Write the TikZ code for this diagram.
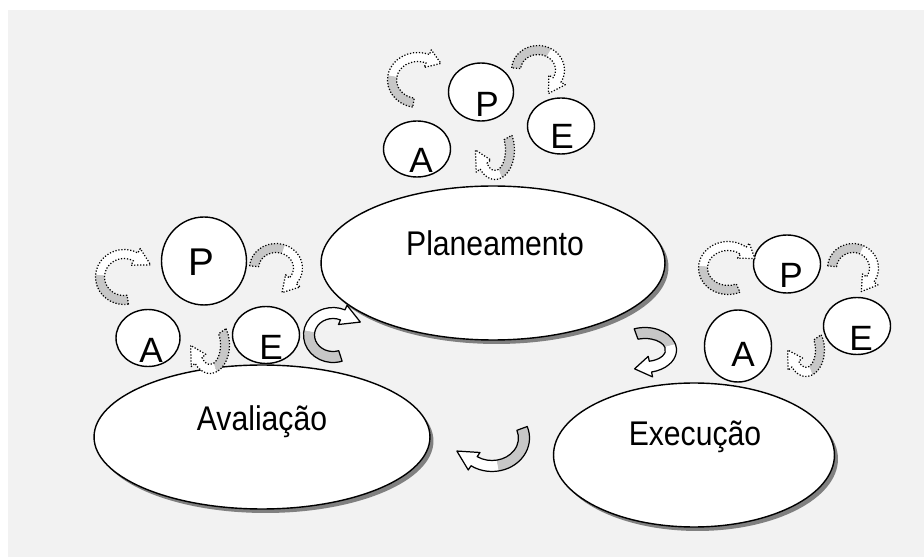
\documentclass[tikz,border=0pt]{standalone}
\usepackage{fontspec}
\setmainfont{Liberation Sans}
\newfontfamily\estreita[FakeStretch=0.88]{Liberation Sans}
\usepackage{tikz}
\usetikzlibrary{shapes.geometric}
\usetikzlibrary{shadows}
\usetikzlibrary{calc}

% ribbon half width and head flare (px)
\def\ribw{4.5}
\def\ribh{5}
% #1 centre, #2 rx, #3 ry, #4 tail angle, #5 turn angle, #6 head angle, #7 head length, #8 outline
\newcommand{\seta}[8]{%
  \begin{scope}[shift={#1}]
    \pgfmathsetmacro\rxo{#2+\ribw}\pgfmathsetmacro\ryo{#3+\ribw}
    \pgfmathsetmacro\rxi{#2-\ribw}\pgfmathsetmacro\ryi{#3-\ribw}
    \pgfmathsetmacro\rxa{#2+\ribw+\ribh}\pgfmathsetmacro\rya{#3+\ribw+\ribh}
    \pgfmathsetmacro\rxb{#2-\ribw-\ribh}\pgfmathsetmacro\ryb{#3-\ribw-\ribh}
    \pgfmathsetmacro\tgx{-#2*sin(#6)}\pgfmathsetmacro\tgy{#3*cos(#6)}
    \pgfmathsetmacro\tgn{veclen(\tgx,\tgy)}
    \pgfmathsetmacro\tipx{#2*cos(#6)+#7*\tgx/\tgn}
    \pgfmathsetmacro\tipy{#3*sin(#6)+#7*\tgy/\tgn}
    \fill[ribback] (#4:{\rxo} and {\ryo})
        arc[start angle=#4,end angle=#5,x radius=\rxo,y radius=\ryo]
        -- (#5:{\rxi} and {\ryi})
        arc[start angle=#5,end angle=#4,x radius=\rxi,y radius=\ryi] -- cycle;
    \fill[white] (#5:{\rxo} and {\ryo})
        arc[start angle=#5,end angle=#6,x radius=\rxo,y radius=\ryo]
        -- (#6:{\rxa} and {\rya}) -- (\tipx,\tipy) -- (#6:{\rxb} and {\ryb})
        -- (#6:{\rxi} and {\ryi})
        arc[start angle=#6,end angle=#5,x radius=\rxi,y radius=\ryi] -- cycle;
    \draw[#8] (#4:{\rxo} and {\ryo})
        arc[start angle=#4,end angle=#6,x radius=\rxo,y radius=\ryo]
        -- (#6:{\rxa} and {\rya}) -- (\tipx,\tipy) -- (#6:{\rxb} and {\ryb})
        -- (#6:{\rxi} and {\ryi})
        arc[start angle=#6,end angle=#4,x radius=\rxi,y radius=\ryi] -- cycle;
  \end{scope}}

\begin{document}
\begin{tikzpicture}[
  x=0.02cm, y=-0.02cm,
  fase/.style 2 args={
    ellipse,
    draw,
    line width=0.8pt,
    fill=white,
    inner sep=0pt,
    minimum width=#1,
    minimum height=#2,
    drop shadow={shadow xshift=0.07cm,shadow yshift=-0.08cm,
                 fill=black!50,opacity=1}},
  ciclo/.style 2 args={
    ellipse,
    draw,
    line width=0.8pt,
    fill=white,
    inner sep=0pt,
    minimum width=#1,
    minimum height=#2},
  nome/.style={font=\estreita\fontsize{19.5}{19.5}\selectfont, inner sep=0pt},
  letra/.style={font=\fontsize{20}{20}\selectfont, inner sep=0pt},
  ribback/.style={fill=black!22},
  pont/.style={densely dotted, line width=0.7pt, line join=round},
  cheia/.style={line width=0.7pt, line join=round},
]

  \useasboundingbox (0,0) rectangle (924,557);
  \fill[black!5] (8,10) rectangle (924,557);

  % The three phases
  \node[fase={6.88cm}{3.08cm}] (plan) at (493,263) {};
  \node[nome] (tplan) at (495,243) {Planeamento};
  \node[fase={6.72cm}{2.88cm}] (aval) at (262,437) {};
  \node[nome] (taval) at (262,422) {Avaliação};
  \node[fase={5.62cm}{2.88cm}] (exec) at (694,455) {};
  \node[nome] (texec) at (695,437) {Execução};

  % P-E-A over Planeamento
  \node[ciclo={1.30cm}{1.16cm}] (pP) at (481,92) {};
  \node[letra] (lpP) at (487,104) {P};
  \node[ciclo={1.34cm}{1.12cm}] (pE) at (561,126) {};
  \node[letra] (lpE) at (562,136) {E};
  \node[ciclo={1.34cm}{1.12cm}] (pA) at (417,149) {};
  \node[letra] (lpA) at (421,160) {A};

  % P-E-A over Avaliacao
  \node[ciclo={1.70cm}{1.76cm}] (aP) at (204,261) {};
  \node[letra, font=\fontsize{22}{22}\selectfont] (laP) at (201,262) {P};
  \node[ciclo={1.34cm}{1.14cm}] (aE) at (266,335) {};
  \node[letra] (laE) at (271,347) {E};
  \node[ciclo={1.28cm}{1.14cm}] (aA) at (148,338) {};
  \node[letra] (laA) at (151,350) {A};

  % P-E-A over Execucao
  \node[ciclo={1.34cm}{1.16cm}] (eP) at (787,264) {};
  \node[letra] (leP) at (791,275) {P};
  \node[ciclo={1.34cm}{1.14cm}] (eE) at (857,326) {};
  \node[letra] (leE) at (861,338) {E};
  \node[ciclo={1.34cm}{1.44cm}] (eA) at (738,346) {};
  \node[letra] (leA) at (743,354) {A};

  % small dotted curls
  \seta{(418,80)}{26}{23}{100}{190}{292}{14}{pont}
  \seta{(538,70)}{22}{20}{185}{300}{390}{16}{pont}
  \seta{(495,150)}{15}{25}{330}{430}{500}{18}{pont}

  \seta{(124,277)}{24}{23}{81}{185}{299}{17}{pont}
  \seta{(276,268)}{22}{20}{185}{290}{400}{16}{pont}
  \seta{(210,345)}{15}{24}{325}{430}{500}{17}{pont}

  \seta{(728,268)}{25}{22}{66}{185}{308}{14}{pont}
  \seta{(853,268)}{21}{20}{185}{295}{395}{15}{pont}
  \seta{(806,350)}{14}{22}{325}{430}{500}{16}{pont}

  % big curls between the phases
  \def\ribw{5.5}
  \seta{(333,335)}{24}{22}{72}{190}{294}{19}{cheia}
  \seta{(645,350)}{26}{17}{250}{345}{438}{16}{cheia}
  \seta{(492,438)}{32}{28}{340}{440}{484}{20}{cheia}

\end{tikzpicture}
\end{document}
